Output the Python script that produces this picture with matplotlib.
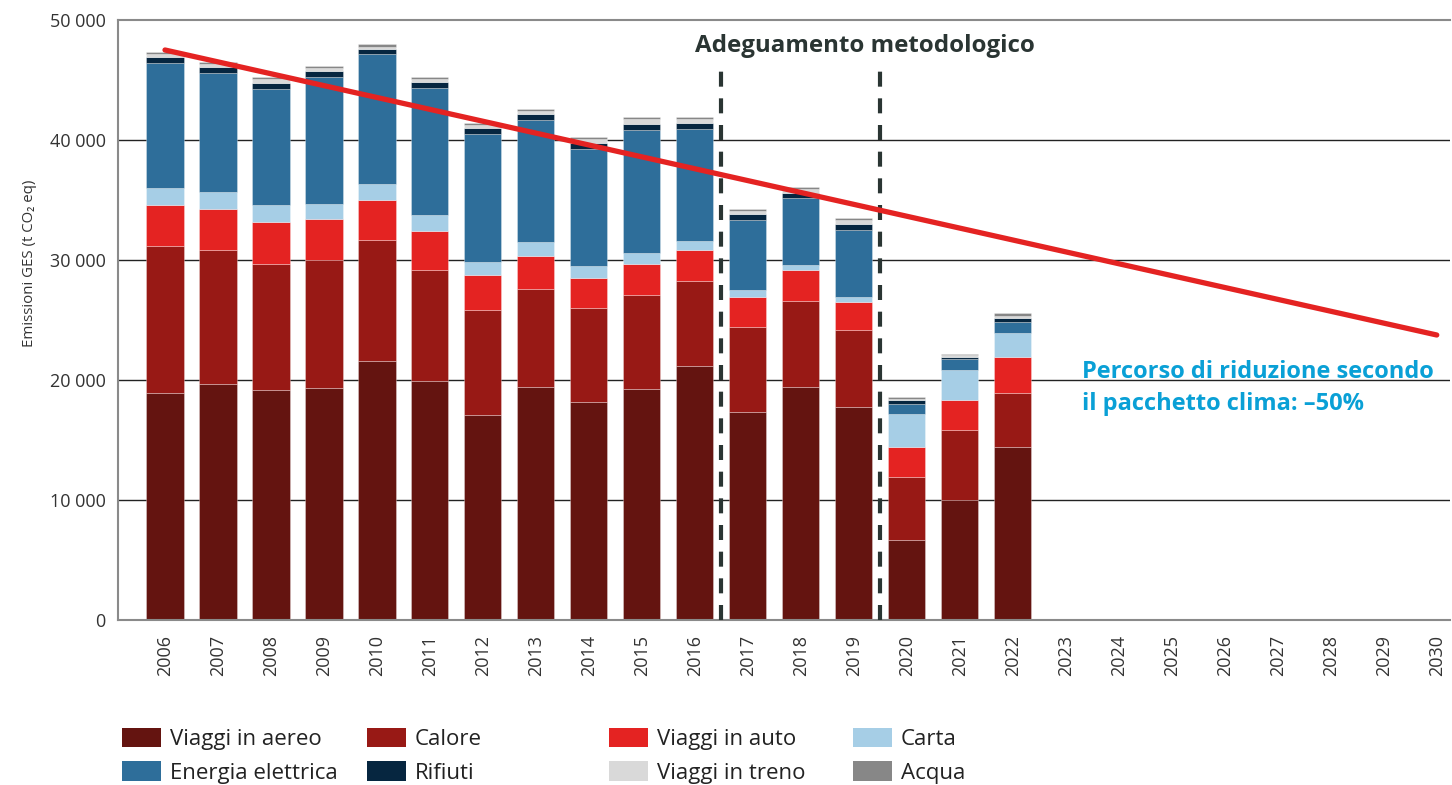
import numpy as np
import matplotlib
matplotlib.use("Agg")
import matplotlib.pyplot as plt
from matplotlib.patches import Patch

plt.rcParams["font.family"] = ["Open Sans", "DejaVu Sans"]

years = [str(y) for y in range(2006, 2031)]

# emissions per category (t CO2 eq), 2006-2022
aereo = [18900, 19670, 19190, 19360, 21610, 19920, 17080, 19420, 18170, 19250, 21170, 17330, 19420, 17750, 6670, 10000, 14420]
calore = [12270, 11190, 10480, 10640, 10080, 9250, 8750, 8160, 7860, 7830, 7080, 7090, 7160, 6420, 5250, 5830, 4500]
auto = [3410, 3390, 3500, 3420, 3310, 3250, 2920, 2750, 2470, 2590, 2580, 2500, 2590, 2330, 2500, 2500, 3000]
carta = [1420, 1420, 1410, 1250, 1330, 1330, 1080, 1170, 1000, 910, 750, 580, 410, 420, 2750, 2500, 2000]
elettrica = [10440, 9940, 9670, 10580, 10840, 10580, 10670, 10170, 9750, 10250, 9340, 5830, 5590, 5580, 830, 920, 910]
rifiuti = [500, 470, 530, 500, 410, 500, 500, 500, 500, 500, 500, 500, 410, 500, 360, 170, 340]
treno = [250, 230, 330, 220, 200, 250, 280, 250, 310, 420, 330, 280, 360, 360, 80, 140, 160]
acqua = [140, 190, 140, 200, 220, 170, 110, 140, 160, 170, 170, 140, 140, 140, 140, 110, 250]

series = [
    ("Viaggi in aereo", aereo, "#641410"),
    ("Calore", calore, "#981915"),
    ("Viaggi in auto", auto, "#e42322"),
    ("Carta", carta, "#a6cee6"),
    ("Energia elettrica", elettrica, "#2e6e9a"),
    ("Rifiuti", rifiuti, "#062640"),
    ("Viaggi in treno", treno, "#d9d9d9"),
    ("Acqua", acqua, "#878787"),
]

# reduction path 2006 -> 2030 (-50%)
path_years = ["2006", "2030"]
path_values = [47500, 23750]

yticks = [0, 10000, 20000, 30000, 40000, 50000]
ytick_labels = ["0", "10 000", "20 000", "30 000", "40 000", "50 000"]

fig = plt.figure(figsize=(14.52, 7.85), dpi=100)
ax = fig.add_axes([118 / 1452, 1 - 620 / 785, 1332 / 1452, 600 / 785])

x = np.arange(len(years))
xb = x[: len(aereo)]
bottom = np.zeros(len(aereo))
for name, vals, col in series:
    ax.bar(xb, vals, 0.7, bottom=bottom, color=col, edgecolor=(1, 1, 1, 0.35),
           linewidth=0.6, zorder=2)
    bottom += np.array(vals)

px = [years.index(y) for y in path_years]
ax.plot(px, path_values, color="#e42322", lw=3.8, solid_capstyle="round", zorder=4)

for xd in [10.5, 13.5]:
    ax.plot([xd, xd], [0, 45800], color="#2a3533", lw=3, dashes=(3.6, 2.8), zorder=3)

ax.text(13.2, 47800, "Adeguamento metodologico", ha="center", va="center",
        fontsize=17.4, fontweight="bold", color="#2a3533")
ax.text(17.3, 19330, "Percorso di riduzione secondo\nil pacchetto clima: \u201350%",
        ha="left", va="center", fontsize=17, fontweight="bold", color="#0aa0d6",
        linespacing=1.45)

ax.set_xlim(-0.887, 24.25)
ax.set_ylim(0, 50000)
ax.set_yticks(yticks)
ax.set_yticklabels(ytick_labels)
ax.set_xticks(x)
ax.set_xticklabels(years, rotation=90)
ax.tick_params(axis="both", length=0, labelsize=13, colors="#333333")
ax.tick_params(axis="y", pad=9)
ax.tick_params(axis="x", pad=11)
for v in yticks[1:-1]:
    ax.axhline(v, color="#222222", lw=1, zorder=1)
for s in ["left", "bottom", "top"]:
    ax.spines[s].set_color("#8a8a8a")
    ax.spines[s].set_linewidth(1.5)
ax.spines["right"].set_visible(False)
ax.set_ylabel("Emissioni GES (t CO\u2082 eq)", fontsize=10.8, color="#333333")
ax.yaxis.set_label_coords(-0.0608, 0.595)

# legend in four columns placed by hand
col_x = [122, 367, 609, 853]
cols = [[series[0], series[4]], [series[1], series[5]], [series[2], series[6]], [series[3], series[7]]]
for cx, entries in zip(col_x, cols):
    handles = [Patch(facecolor=c, label=n) for n, v, c in entries]
    leg = fig.legend(handles=handles, loc="upper left",
                     bbox_to_anchor=(cx / 1452, 1 - 728 / 785), frameon=False,
                     borderpad=0, borderaxespad=0, handlelength=1.75, handleheight=0.95,
                     handletextpad=0.4, labelspacing=0.5,
                     prop={"size": 16})
    for t in leg.get_texts():
        t.set_color("#222222")

fig.savefig("out.png", dpi=100)
